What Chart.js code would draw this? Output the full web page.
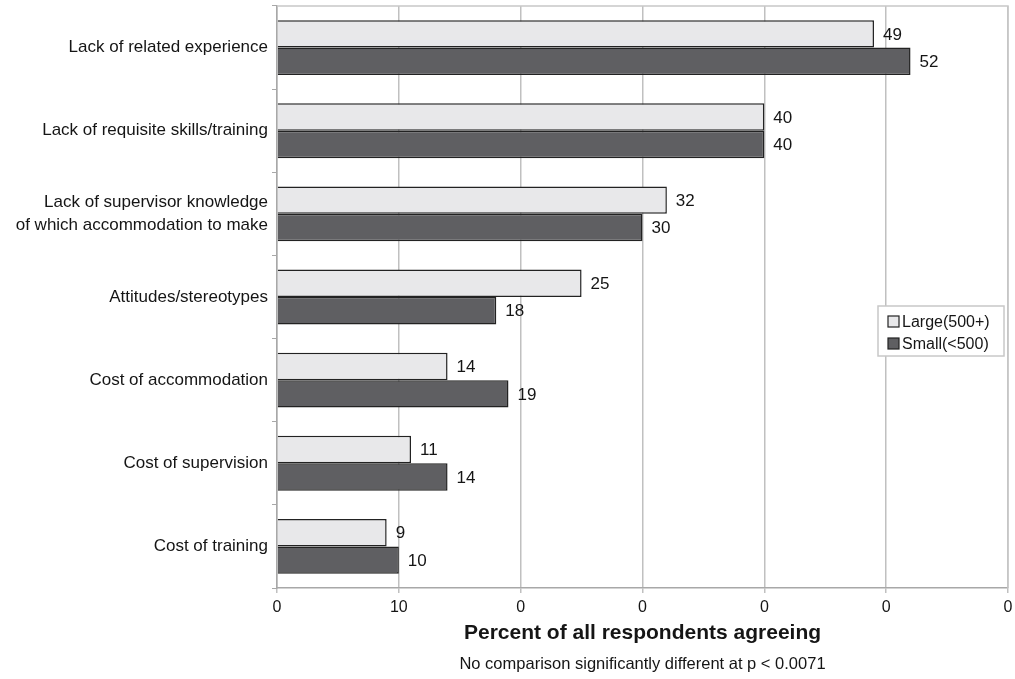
<!DOCTYPE html>
<html>
<head>
<meta charset="utf-8">
<script src="https://cdn.jsdelivr.net/npm/chart.js@4"></script>
<style>
  html, body { margin: 0; padding: 0; background: #fff; }
  #wrap { width: 1015px; height: 679px; }
</style>
</head>
<body>
<div id="wrap"><canvas id="barriersChart"></canvas></div>
<script>
const categories = [
    'Lack of related experience',
    'Lack of requisite skills/training',
    ['Lack of supervisor knowledge', 'of which accommodation to make'],
    'Attitudes/stereotypes',
    'Cost of accommodation',
    'Cost of supervision',
    'Cost of training'
]
const largeValues = [49, 40, 32, 25, 14, 11, 9]
const smallValues = [52, 40, 30, 18, 19, 14, 10]
const tickLabels = ['0', '10', '0', '0', '0', '0', '0']
const seriesNames = ['Large(500+)', 'Small(<500)']

const FONT = 'Arial, "Liberation Sans", sans-serif'

const valueLabels = {
    id: 'valueLabels',
    afterDatasetsDraw(chart) {
        const ctx = chart.ctx
        ctx.save()
        ctx.font = '17px ' + FONT
        ctx.fillStyle = '#151515'
        ctx.textBaseline = 'middle'
        ctx.textAlign = 'left'
        chart.data.datasets.forEach((ds, i) => {
            chart.getDatasetMeta(i).data.forEach((bar, j) => {
                ctx.fillText(String(ds.data[j]), bar.x + 9, bar.y + 1)
            })
        })
        ctx.restore()
    }
}

const frameAndNotes = {
    id: 'frameAndNotes',
    beforeDatasetsDraw(chart) {
        const { ctx, chartArea: a } = chart
        ctx.save()
        ctx.strokeStyle = '#c8c8c8'
        ctx.lineWidth = 1.5
        ctx.beginPath()
        ctx.moveTo(a.left, a.top)
        ctx.lineTo(a.right, a.top)
        ctx.lineTo(a.right, a.bottom)
        ctx.stroke()
        ctx.restore()
    },
    afterDraw(chart) {
        const { ctx, chartArea: a } = chart
        ctx.save()
        // note under the axis title
        ctx.font = '16.5px ' + FONT
        ctx.fillStyle = '#151515'
        ctx.textAlign = 'center'
        ctx.textBaseline = 'middle'
        ctx.fillText('No comparison significantly different at p < 0.0071', (a.left + a.right) / 2, 664)

        // legend box
        const lx = 878, ly = 306, lw = 126, lh = 50
        ctx.fillStyle = '#fff'
        ctx.fillRect(lx, ly, lw, lh)
        ctx.strokeStyle = '#c8c8c8'
        ctx.lineWidth = 1.5
        ctx.strokeRect(lx, ly, lw, lh)
        ctx.font = '16px ' + FONT
        ctx.textAlign = 'left'
        chart.data.datasets.forEach((ds, i) => {
            const y = ly + 16 + i * 22
            ctx.fillStyle = ds.backgroundColor
            ctx.fillRect(lx + 10, y - 6, 11, 11)
            ctx.strokeStyle = '#222'
            ctx.lineWidth = 1.2
            ctx.strokeRect(lx + 10, y - 6, 11, 11)
            ctx.fillStyle = '#151515'
            ctx.fillText(ds.label, lx + 24, y + 1)
        })
        ctx.restore()
    }
}

new Chart(document.getElementById('barriersChart'), {
    type: 'bar',
    data: {
        labels: categories,
        datasets: [{
            label: seriesNames[0],
            data: largeValues,
            backgroundColor: '#e8e8ea',
            borderColor: '#222',
            borderWidth: 1.5,
            categoryPercentage: 0.66,
            barPercentage: 1
        }, {
            label: seriesNames[1],
            data: smallValues,
            backgroundColor: '#5f5f62',
            borderColor: '#222',
            borderWidth: 1.5,
            categoryPercentage: 0.66,
            barPercentage: 1
        }]
    },
    options: {
        indexAxis: 'y',
        responsive: true,
        maintainAspectRatio: false,
        animation: false,
        layout: { padding: { top: 6, right: 7, left: 0, bottom: 0 } },
        plugins: {
            legend: { display: false },
            tooltip: { enabled: false }
        },
        scales: {
            x: {
                min: 0,
                max: 60,
                ticks: {
                    stepSize: 10,
                    color: '#151515',
                    font: { family: FONT, size: 16 },
                    padding: 5,
                    maxRotation: 0,
                    callback: (v, i) => tickLabels[i]
                },
                grid: { color: '#c0c0c0', lineWidth: 1.5, tickLength: 5 },
                border: { color: '#a8a8a8', width: 1.5 },
                title: {
                    display: true,
                    text: 'Percent of all respondents agreeing',
                    color: '#151515',
                    font: { family: FONT, size: 21, weight: 'bold' },
                    padding: { top: 4, bottom: 33 }
                },
                afterFit: s => { s.height = 91; s.paddingRight = 0; s.paddingLeft = 0 }
            },
            y: {
                ticks: {
                    color: '#151515',
                    font: { family: FONT, size: 17, lineHeight: 1.3 },
                    padding: 4
                },
                grid: { offset: true, drawOnChartArea: false, tickLength: 5, color: '#a8a8a8' },
                border: { color: '#a8a8a8', width: 1.5 },
                afterFit: s => { s.width = 277; s.paddingTop = 0; s.paddingBottom = 0 }
            }
        }
    },
    plugins: [valueLabels, frameAndNotes]
})
</script>
</body>
</html>
